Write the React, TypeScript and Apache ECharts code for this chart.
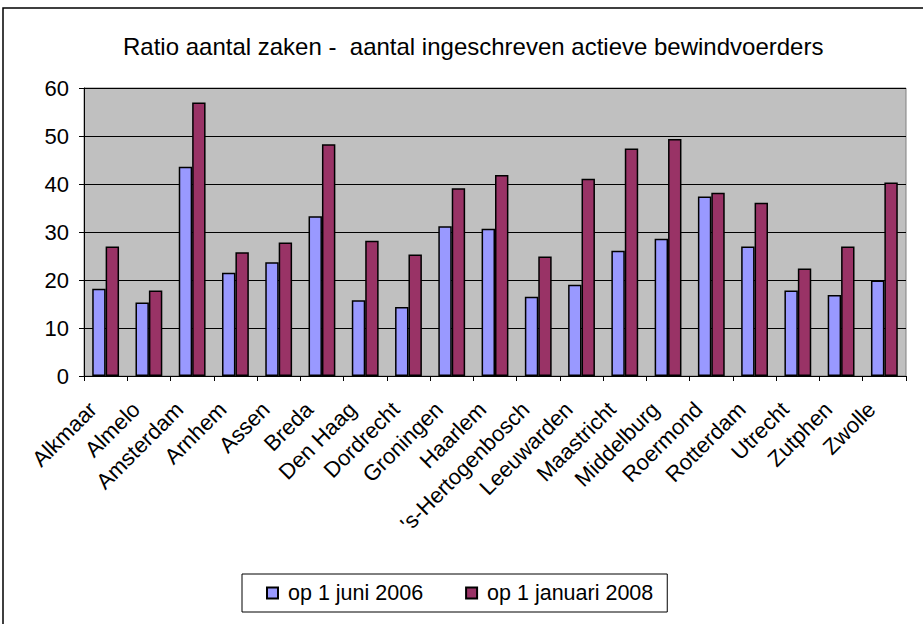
import React, { useEffect, useRef } from "react";
import * as echarts from "echarts";

const categories = [
  "Alkmaar", "Almelo", "Amsterdam", "Arnhem", "Assen", "Breda", "Den Haag",
  "Dordrecht", "Groningen", "Haarlem", "'s-Hertogenbosch", "Leeuwarden",
  "Maastricht", "Middelburg", "Roermond", "Rotterdam", "Utrecht", "Zutphen", "Zwolle",
];
const juni2006 = [18.2, 15.3, 43.6, 21.5, 23.7, 33.3, 15.8, 14.4, 31.2, 30.7, 16.5, 19.0, 26.1, 28.6, 37.4, 27.0, 17.8, 16.9, 19.9];
const januari2008 = [27.0, 17.8, 57.0, 25.8, 27.8, 48.3, 28.2, 25.3, 39.1, 41.9, 24.9, 41.1, 47.4, 49.4, 38.2, 36.1, 22.4, 27.0, 40.3];
const seriesNames = ["op 1 juni 2006", "op 1 januari 2008"];
const titleText = "Ratio aantal zaken -  aantal ingeschreven actieve bewindvoerders";

const FONT = "'Liberation Sans', Arial, sans-serif";

export default function App() {
  const ref = useRef<HTMLDivElement>(null);
  useEffect(() => {
    if (!ref.current) return;
    const chart = echarts.init(ref.current, null, { renderer: "svg" });
    chart.setOption({
      animation: false,
      backgroundColor: "#ffffff",
      textStyle: { fontFamily: FONT, color: "#000" },
      title: {
        text: titleText,
        left: 118,
        top: 29,
        textStyle: { fontFamily: FONT, fontSize: 24, fontWeight: "normal", color: "#000" },
      },
      graphic: [
        {
          type: "rect",
          shape: { x: 3, y: 8, width: 1000, height: 1000 },
          style: { fill: "none", stroke: "#000", lineWidth: 1.5 },
          silent: true,
        },
      ],
      legend: {
        left: 242,
        top: 574,
        padding: [8, 14, 8, 24],
        itemGap: 42,
        itemWidth: 11,
        itemHeight: 11,
        backgroundColor: "#fff",
        borderColor: "#000",
        borderWidth: 1,
        icon: "rect",
        textStyle: { fontFamily: FONT, fontSize: 21.5, color: "#000", padding: [0, 0, 0, 5] },
        data: seriesNames,
      },
      grid: {
        left: 84,
        top: 88,
        right: 17,
        bottom: 248,
        show: true,
        backgroundColor: "#C0C0C0",
        borderColor: "#808080",
        borderWidth: 1,
        containLabel: false,
      },
      xAxis: {
        type: "category",
        data: categories,
        axisLine: { lineStyle: { color: "#000", width: 1 } },
        axisTick: { show: true, length: 5, lineStyle: { color: "#000" } },
        axisLabel: {
          interval: 0,
          rotate: 45,
          margin: 17,
          padding: [0, 18, 0, 0],
          fontFamily: FONT,
          fontSize: 22,
          color: "#000",
        },
      },
      yAxis: {
        type: "value",
        min: 0,
        max: 60,
        interval: 10,
        axisLine: { show: true, lineStyle: { color: "#000", width: 1 } },
        axisTick: { show: true, length: 5, lineStyle: { color: "#000" } },
        axisLabel: { fontFamily: FONT, fontSize: 22, color: "#000", margin: 15 },
        splitLine: { show: true, lineStyle: { color: "#000", width: 1 } },
      },
      series: [
        {
          name: seriesNames[0],
          type: "bar",
          data: juni2006,
          barGap: "0%",
          barCategoryGap: "38%",
          itemStyle: { color: "#9999FF", borderColor: "#000", borderWidth: 1.5 },
        },
        {
          name: seriesNames[1],
          type: "bar",
          data: januari2008,
          barGap: "0%",
          barCategoryGap: "38%",
          itemStyle: { color: "#993366", borderColor: "#000", borderWidth: 1.5 },
        },
      ],
    });
    return () => chart.dispose();
  }, []);
  return (
    <div
      ref={ref}
      style={{ position: "absolute", left: 0, top: 0, width: 923, height: 624 }}
    />
  );
}
